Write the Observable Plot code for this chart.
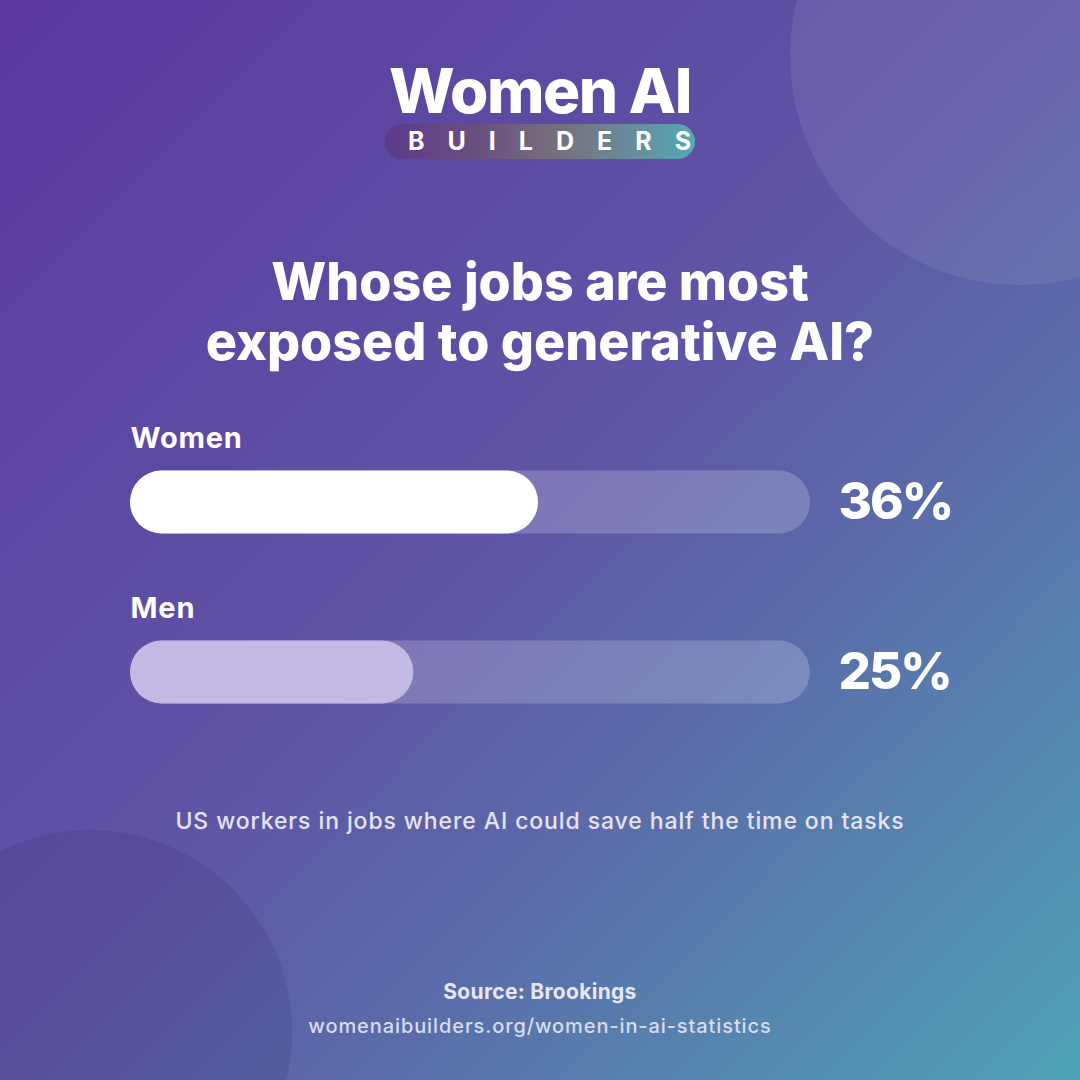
<!DOCTYPE html>
<html>
<head>
<meta charset="utf-8">
<script src="https://cdn.jsdelivr.net/npm/d3@7"></script>
<script src="https://cdn.jsdelivr.net/npm/@observablehq/plot@0.6"></script>
<style>
  html, body { margin: 0; padding: 0; }
  body { width: 1080px; height: 1080px; overflow: hidden; font-family: Inter, "Open Sans", sans-serif; }
  #page {
    position: relative; width: 1080px; height: 1080px; overflow: hidden;
    background: linear-gradient(135deg, #5a399e 0%, #5f55a6 48%, #5b6aa9 65%, #4fa3b4 100%);
    color: #fff;
  }
  .circle { position: absolute; border-radius: 50%; }
  #c1 { left: 790px; top: -175px; width: 460px; height: 460px; background: rgba(255,255,255,0.08); }
  #c2 { left: -112px; top: 830px; width: 404px; height: 404px; background: rgba(30,20,80,0.12); }
  #logo { position: absolute; left: 0; width: 1080px; top: 56px; text-align: center; }
  #logo .l1 { font-size: 62px; font-weight: 800; letter-spacing: -1.5px; line-height: 70px; }
  #logo .pill {
    display: inline-block; margin-top: -2px; width: 310px; height: 35px; border-radius: 18px;
    background: linear-gradient(90deg, #5c3a8a 0%, #6a4f80 30%, #766f7c 55%, #6a8a98 78%, #56a8b8 100%);
    font-size: 25px; font-weight: 700; letter-spacing: 23px; line-height: 35px; text-indent: 23px;
  }
  #title { position: absolute; left: 0; width: 1080px; top: 252px; text-align: center;
    font-size: 52px; font-weight: 800; line-height: 60px; letter-spacing: 0px; }
  #chart { position: absolute; left: 0; top: 400px; }
  #sub { position: absolute; left: 0; width: 1080px; top: 807px; text-align: center;
    font-size: 23px; font-weight: 500; color: #e6e2f4; letter-spacing: 0.9px; }
  #src { position: absolute; left: 0; width: 1080px; top: 979px; text-align: center;
    font-size: 21px; font-weight: 700; color: #e8e6f4; letter-spacing: 0.3px; }
  #url { position: absolute; left: 0; width: 1080px; top: 1014px; text-align: center;
    font-size: 20px; font-weight: 500; color: #d9dbee; letter-spacing: 0.9px; }
</style>
</head>
<body>
<div id="page">
  <div class="circle" id="c1"></div>
  <div class="circle" id="c2"></div>
  <div id="logo">
    <div class="l1">Women AI</div>
    <div class="pill">BUILDERS</div>
  </div>
  <div id="title">Whose jobs are most<br>exposed to generative AI?</div>
  <div id="chart"></div>
  <div id="sub">US workers in jobs where AI could save half the time on tasks</div>
  <div id="src">Source: Brookings</div>
  <div id="url">womenaibuilders.org/women-in-ai-statistics</div>
</div>
<script>
const categories = ["Women", "Men"];
const shares = [36, 25];
const scaleMax = 60;

const rows = categories.map((c, i) => ({category: c, share: shares[i], max: scaleMax}));

const chart = Plot.plot({
  width: 1080,
  height: 320,
  margin: 0,
  style: {background: "transparent", overflow: "visible"},
  x: {domain: [0, scaleMax], range: [130, 810], axis: null},
  y: {type: "band", domain: categories, range: [16.5, 356.5], padding: 0, axis: null},
  color: {domain: categories, range: ["#ffffff", "#c4b8e4"]},
  marks: [
    Plot.barX(rows, {x1: 0, x2: "max", y: "category", fill: "#ffffff", fillOpacity: 0.2,
      insetTop: 53.5, insetBottom: 53.5, rx: 31.5}),
    Plot.barX(rows, {x1: 0, x2: "share", y: "category", fill: "category",
      insetTop: 53.5, insetBottom: 53.5, rx: 31.5}),
    Plot.text(rows, {x: 0, y: "category", text: "category", dy: -64, textAnchor: "start",
      fill: "#ffffff", fontSize: 29, fontWeight: 700, fontFamily: "Inter"}),
    Plot.text(rows, {x: "max", y: "category", text: d => `${d.share}%`, dx: 28, textAnchor: "start",
      fill: "#ffffff", fontSize: 51, fontWeight: 800, fontFamily: "Inter"})
  ]
});
const textGroups = chart.querySelectorAll('g[aria-label="text"]');
if (textGroups.length === 2) {
  textGroups[0].setAttribute("letter-spacing", "0.8");
  textGroups[1].setAttribute("letter-spacing", "-2");
}
document.getElementById("chart").appendChild(chart);
</script>
</body>
</html>
